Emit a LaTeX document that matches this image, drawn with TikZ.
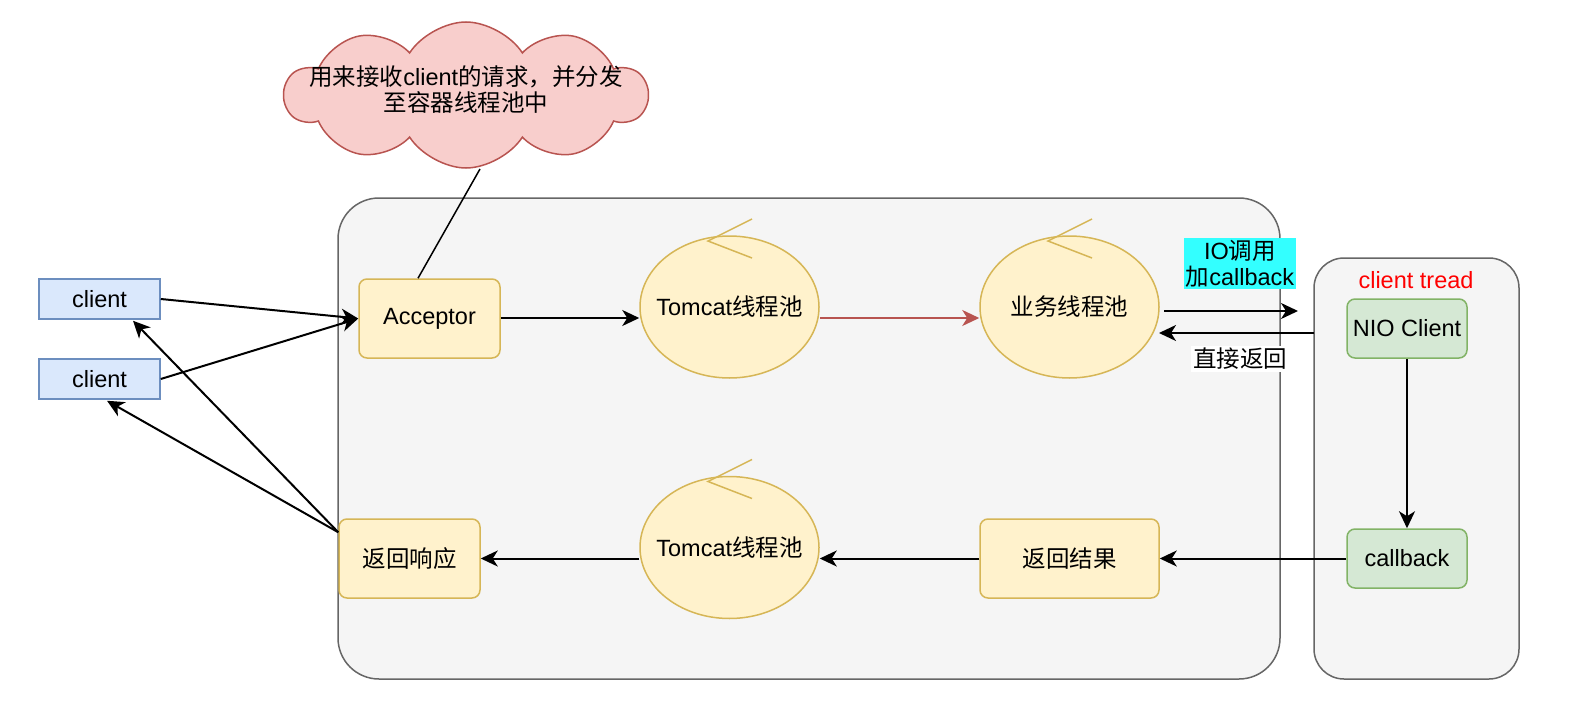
\documentclass[tikz,border=0pt]{standalone}
\usepackage{fontspec}
\setmainfont{Liberation Sans}
\newfontfamily\cjk{Noto Sans CJK SC}
\usetikzlibrary{arrows.meta,shapes.geometric,shapes.symbols}
\definecolor{grpfill}{HTML}{F5F5F5}
\definecolor{grpline}{HTML}{666666}
\definecolor{clifill}{HTML}{DAE8FC}
\definecolor{cliline}{HTML}{6C8EBF}
\definecolor{yelfill}{HTML}{FFF2CC}
\definecolor{yelline}{HTML}{D6B656}
\definecolor{grnfill}{HTML}{D5E8D4}
\definecolor{grnline}{HTML}{82B366}
\definecolor{notefill}{HTML}{F8CECC}
\definecolor{noteline}{HTML}{B85450}
\definecolor{iofill}{HTML}{33FFFF}
\definecolor{treadred}{HTML}{FF0000}

\begin{document}
\begin{tikzpicture}[x=1pt,y=-1pt,font=\fontsize{23.5}{26}\selectfont]
\tikzstyle{group} = [rectangle, draw=grpline, fill=grpfill, line width=1.5pt, inner sep=0pt]
\tikzstyle{client} = [rectangle, draw=cliline, fill=clifill, line width=1.5pt,
minimum width=121pt, minimum height=40pt, inner sep=0pt]
\tikzstyle{block} = [rectangle, draw=yelline, fill=yelfill, line width=1.5pt,
rounded corners=8pt, minimum height=79pt, inner sep=0pt]
\tikzstyle{nio} = [rectangle, draw=grnline, fill=grnfill, line width=1.5pt,
rounded corners=8pt, minimum width=120pt, minimum height=59pt, inner sep=0pt]
\tikzstyle{pool} = [ellipse, draw=yelline, fill=yelfill, line width=1.5pt,
minimum width=179pt, minimum height=142pt, inner ysep=0pt, inner xsep=-15pt]
\tikzstyle{ctrl} = [draw=yelline, line width=1.5pt]
\tikzstyle{note} = [shape=cloud, cloud puffs=10, cloud puff arc=115,
draw=noteline, fill=notefill, line width=1.5pt, minimum width=362pt,
minimum height=146pt, inner sep=0pt]
\tikzstyle{line} = [draw, line width=2pt, -{Stealth[length=17pt,width=16pt,inset=5pt]}];
\useasboundingbox (0,0) rectangle (1596,706);
% containers
\node [group, rounded corners=41pt, minimum width=942pt, minimum height=481pt] (server) at (809,438.5) {};
\node [group, rounded corners=30pt, minimum width=205pt, minimum height=421pt] (tread) at (1416.5,468.5) {};
\node [text=treadred] (treadlabel) at (1416,280) {client tread};
% clients
\node [client] (client1) at (99.5,299) {client};
\node [client] (client2) at (99.5,379) {client};
% top row
\node [block, minimum width=141pt] (acceptor) at (429.5,318.5) {Acceptor};
\node [pool] (tomcat1) at (729.5,307) {Tomcat{\cjk 线程池}};
\node [pool] (biz) at (1069.5,307) {{\cjk 业务线程池}};
\node [nio] (nio) at (1407,328.5) {NIO Client};
% bottom row
\node [block, minimum width=141pt] (response) at (409.5,558.5) {{\cjk 返回响应}};
\node [pool] (tomcat2) at (729.5,547.5) {Tomcat{\cjk 线程池}};
\node [block, minimum width=179pt] (result) at (1069.5,558.5) {{\cjk 返回结果}};
\node [nio] (callback) at (1407,558.5) {callback};
% control marks
\foreach \p in {tomcat1,biz,tomcat2}
  \draw [ctrl] ([shift={(22.5,-88)}]\p.center) -- ([shift={(-21.5,-66)}]\p.center)
    -- ([shift={(22.5,-49)}]\p.center);
% note
\node [note] (note) at (466,95) {};
\node [align=center] (notetext) at (466,90) {{\cjk 用来接收}client{\cjk 的请求，并分发}\\{\cjk 至容器线程池中}};
\draw [line width=1.5pt] ([shift={(14,74)}]note.center) -- ([shift={(-11.5,0)}]acceptor.north);
% free ends
\coordinate (ioout) at (1164,311);
\coordinate (ioend) at (1298,311);
\coordinate (backstart) at (1314,333);
\coordinate (backend) at (1159,333);
\coordinate (respout) at ([shift={(0,14)}]response.north west);

\tikzstyle{every path}=[line]
\path (client1.east) -- (acceptor.west);
\path (client2.east) -- (acceptor.west);
\path (acceptor.east |- 0,318) -- (tomcat1.west |- 0,318);
\path [draw=noteline] (tomcat1.east |- 0,318) -- (biz.west |- 0,318);
\path (ioout) -- node [pos=0.567, anchor=south, yshift=21pt, fill=iofill, align=center,
  inner sep=2pt] {IO{\cjk 调用}\\{\cjk 加}callback} (ioend);
\path (backstart) -- node [pos=0.477, anchor=north, yshift=-12pt, fill=white,
  inner sep=2pt] {{\cjk 直接返回}} (backend);
\path (nio) -- (callback);
\path (callback) -- (result);
\path (result.west) -- (tomcat2.east |- result.west);
\path (tomcat2.west |- response.east) -- (response.east);
\path (respout) -- ([shift={(33.5,1)}]client1.south);
\path (respout) -- ([shift={(7.5,1)}]client2.south);

\end{tikzpicture}
\end{document}
